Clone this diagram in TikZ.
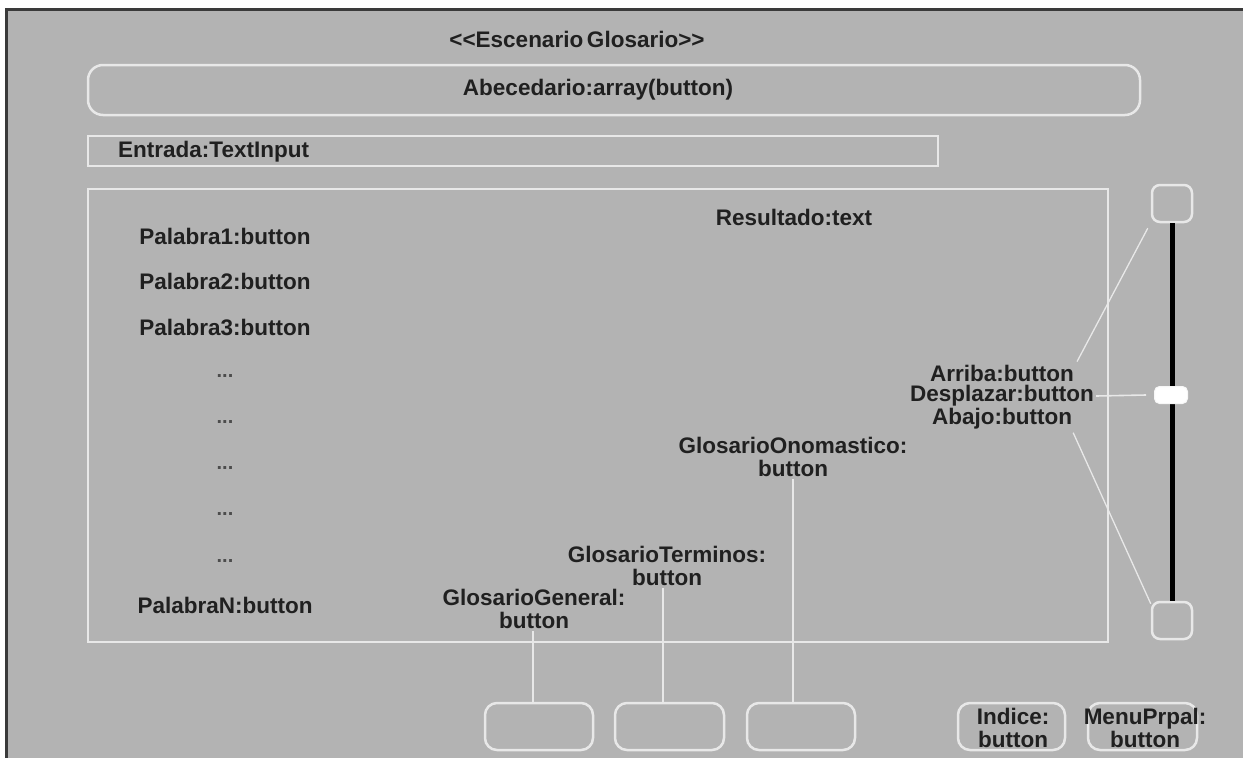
\documentclass[tikz,border=0pt]{standalone}
\usepackage{fontspec}
\setmainfont{Liberation Sans}
\definecolor{bg}{HTML}{B3B3B3}
\definecolor{edge}{HTML}{E8E8E8}
\definecolor{ink}{HTML}{202020}
\definecolor{frame}{HTML}{3A3A3A}
\begin{document}
\begin{tikzpicture}[x=1pt,y=-1pt,
  lbl/.style={font=\fontsize{22.5}{23}\selectfont\bfseries, text=ink, inner sep=2pt, align=center},
  dots/.style={font=\fontsize{20}{20}\selectfont\bfseries, text=ink!80, inner sep=1pt},
  roundbox/.style={draw=edge, line width=2.5pt, rounded corners=#1, inner sep=0pt},
  roundbox/.default=12pt,
  panel/.style={draw=edge, line width=2pt, inner sep=0pt},
  link/.style={draw=edge, line width=1.6pt}]
\useasboundingbox (0,0) rectangle (1243,758);
% canvas and window frame
\fill[white] (0,0) rectangle (1243,758);
\fill[bg] (6,9) rectangle (1243,758);
\draw[frame, line width=3pt] (5,9.5) -- (1243,9.5);
\draw[frame, line width=3pt] (6,8) -- (6,758);

% title
\node[lbl] (title) at (577,39) {{<}{<}Escenario\,Glosario{>}{>}};

% alphabet bar
\node[roundbox=15pt, minimum width=1052pt, minimum height=50pt] (abc) at (614,90) {};
\node[lbl] (abcTxt) at (598,90) {Abecedario:array(button)};

% text input
\node[panel, minimum width=850pt, minimum height=30pt] (entrada) at (513,151) {};
\node[lbl, anchor=west] (entradaTxt) at (116,152) {Entrada:TextInput};

% result panel
\node[panel, minimum width=1020pt, minimum height=453pt] (res) at (598,415.5) {};
\node[lbl] (resTxt) at (794,217) {Resultado:text};

% word list
\node[lbl] (p1) at (225,236) {Palabra1:button};
\node[lbl] (p2) at (225,281) {Palabra2:button};
\node[lbl] (p3) at (225,327) {Palabra3:button};
\node[dots] (d1) at (225,376) {.{}.{}.};
\node[dots] (d2) at (225,422) {.{}.{}.};
\node[dots] (d3) at (225,468) {.{}.{}.};
\node[dots] (d4) at (225,514) {.{}.{}.};
\node[dots] (d5) at (225,561) {.{}.{}.};
\node[lbl] (pn) at (225,605) {PalabraN:button};

% glossary buttons
\node[lbl] (gOno) at (793,457) {GlosarioOnomastico:\\button};
\node[lbl] (gTer) at (667,566) {GlosarioTerminos:\\button};
\node[lbl] (gGen) at (534,609) {GlosarioGeneral:\\button};
\node[roundbox, minimum width=108pt, minimum height=47pt] (bGen) at (539,726.5) {};
\node[roundbox, minimum width=109pt, minimum height=47pt] (bTer) at (669.5,726.5) {};
\node[roundbox, minimum width=108pt, minimum height=47pt] (bOno) at (801,726.5) {};
\draw[link] ([xshift=-6pt]bGen.north) -- ([xshift=-6pt]bGen.north |- gGen.south);
\draw[link] ([xshift=-6.5pt]bTer.north) -- ([xshift=-6.5pt]bTer.north |- gTer.south);
\draw[link] ([xshift=-8pt]bOno.north) -- ([xshift=-8pt]bOno.north |- gOno.south);

% index and main menu
\node[roundbox, minimum width=107pt, minimum height=47pt] (bIdx) at (1011.5,726.5) {};
\node[lbl] at (1013,727.5) {Indice:\\button};
\node[roundbox, minimum width=109pt, minimum height=47pt] (bMenu) at (1142.5,726.5) {};
\node[lbl] at (1145,727.5) {MenuPrpal:\\button};

% scroll bar
\node[roundbox=8pt, minimum width=40pt, minimum height=37pt] (up) at (1172,203.5) {};
\node[roundbox=8pt, minimum width=40pt, minimum height=37pt] (down) at (1172,620.5) {};
\draw[black, line width=5pt] (up.south) -- (down.north);
\node[fill=white, draw=white!90!bg, line width=1pt, rounded corners=5pt, minimum width=33pt, minimum height=17pt, inner sep=0pt] (thumb) at (1171,395) {};

\node[lbl] (arriba) at (1002,373) {Arriba:button};
\node[lbl] (desp) at (1002,396) {Desplazar:button};
\node[lbl] (abajo) at (1002,419) {Abajo:button};
\draw[link, line width=1.3pt] ([xshift=-3pt,yshift=-5pt]up.south west) -- ([xshift=1pt,yshift=1pt]arriba.north east);
\draw[link] (desp.east) -- ([xshift=-8pt]thumb.west);
\draw[link, line width=1.3pt] ([xshift=-1pt,yshift=-1pt]abajo.south east) -- ([yshift=-3pt]down.north west);
\end{tikzpicture}
\end{document}
